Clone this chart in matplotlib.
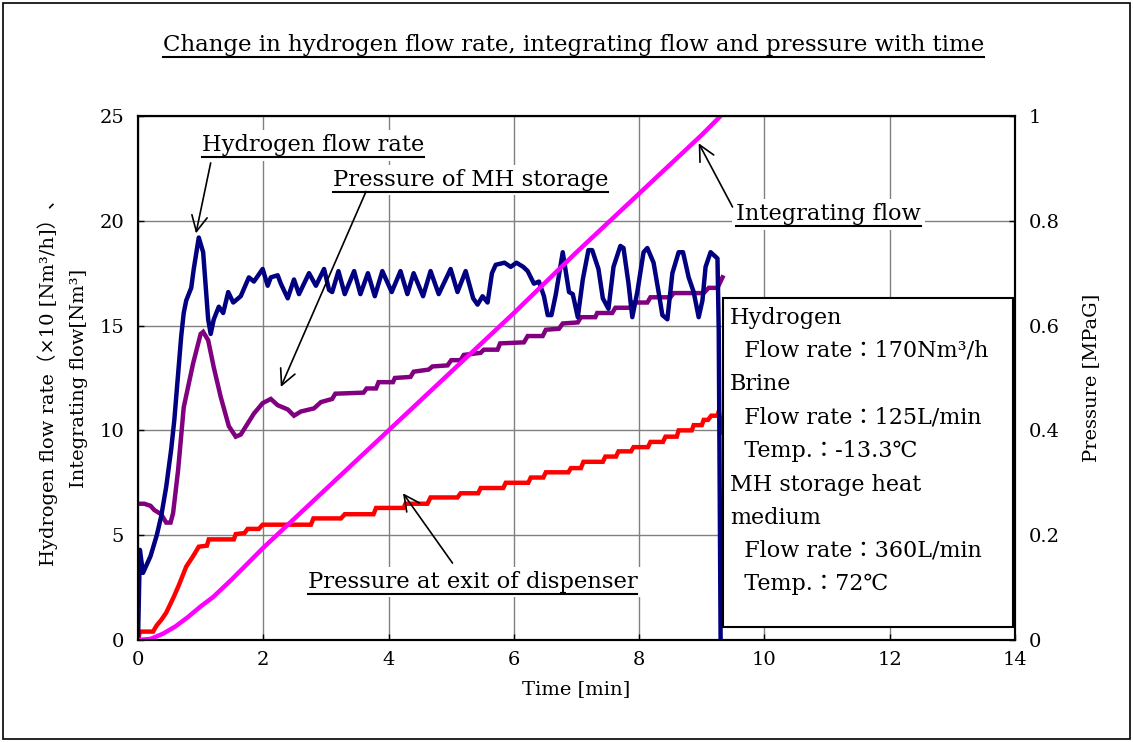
import matplotlib
matplotlib.use("Agg")
import matplotlib.pyplot as plt
from matplotlib.lines import Line2D
from matplotlib.patches import Rectangle

plt.rcParams["font.family"] = ["DejaVu Serif", "Noto Sans CJK JP"]

# hydrogen flow rate (x10 Nm3/h), left axis
h2_t = [0.0, 0.03, 0.08, 0.2, 0.3, 0.37, 0.45, 0.53, 0.58, 0.69, 0.73, 0.77, 0.85, 0.89,
        0.97, 1.04, 1.12, 1.16, 1.21, 1.29, 1.36, 1.44, 1.52, 1.64, 1.77, 1.85, 1.99,
        2.07, 2.12, 2.23, 2.28, 2.39, 2.49, 2.57, 2.73, 2.84, 2.97, 3.05, 3.1, 3.2, 3.3,
        3.45, 3.55, 3.67, 3.78, 3.9, 4.05, 4.19, 4.3, 4.4, 4.55, 4.67, 4.8, 4.99, 5.1,
        5.23, 5.35, 5.42, 5.5, 5.58, 5.65, 5.71, 5.85, 5.95, 6.04, 6.15, 6.22, 6.32,
        6.4, 6.48, 6.54, 6.6, 6.67, 6.78, 6.88, 6.94, 7.02, 7.1, 7.19, 7.25, 7.35, 7.42,
        7.51, 7.59, 7.7, 7.75, 7.83, 7.89, 7.97, 8.07, 8.13, 8.23, 8.31, 8.37, 8.45,
        8.53, 8.63, 8.7, 8.79, 8.87, 8.95, 9.01, 9.06, 9.14, 9.25, 9.27, 9.3]
h2_flow = [0.0, 4.3, 3.2, 4.0, 5.0, 5.9, 7.3, 9.1, 10.5, 14.5, 15.6, 16.2, 16.8, 17.7,
           19.2, 18.5, 15.3, 14.6, 15.3, 15.9, 15.6, 16.6, 16.1, 16.4, 17.3, 17.1, 17.7,
           16.9, 17.3, 17.4, 17.0, 16.3, 17.2, 16.5, 17.5, 16.9, 17.7, 16.7, 16.6, 17.6,
           16.5, 17.6, 16.5, 17.5, 16.4, 17.6, 16.6, 17.6, 16.5, 17.5, 16.4, 17.6, 16.5,
           17.7, 16.6, 17.6, 16.3, 16.0, 16.4, 16.1, 17.5, 17.9, 18.0, 17.8, 18.0, 17.8,
           17.6, 17.0, 17.1, 16.4, 15.5, 15.5, 16.5, 18.5, 16.6, 16.5, 15.4, 17.2, 18.6,
           18.6, 17.7, 16.3, 15.8, 17.8, 18.8, 18.7, 17.0, 15.4, 16.6, 18.5, 18.7, 18.0,
           16.6, 15.5, 15.3, 17.5, 18.5, 18.5, 17.3, 16.6, 15.4, 16.2, 17.8, 18.5, 18.2,
           14.8, 0.0]

# integrating flow (Nm3), left axis
int_t = [0.0, 0.2, 0.4, 0.6, 0.8, 1.0, 1.2, 1.5, 2.0, 3.0, 4.0, 5.0, 6.0, 7.0, 8.0, 9.0, 9.3]
int_flow = [0.0, 0.05, 0.3, 0.65, 1.1, 1.6, 2.05, 2.9, 4.4, 7.2, 10.0, 12.8, 15.6, 18.5,
            21.3, 24.1, 25.0]

# pressure of MH storage (MPaG), right axis
mh_t = [0.0, 0.1, 0.2, 0.26, 0.37, 0.45, 0.52, 0.56, 0.64, 0.73, 0.88, 1.0, 1.04, 1.12,
        1.21, 1.32, 1.45, 1.56, 1.64, 1.85, 1.99, 2.12, 2.23, 2.39, 2.49, 2.6, 2.81, 2.92,
        3.1, 3.15, 3.6, 3.65, 3.8, 3.84, 4.07, 4.1, 4.35, 4.4, 4.64, 4.7, 4.94, 5.0, 5.15,
        5.2, 5.47, 5.52, 5.74, 5.78, 6.16, 6.22, 6.46, 6.51, 6.72, 6.78, 7.02, 7.07, 7.3,
        7.33, 7.57, 7.62, 7.86, 7.89, 8.13, 8.18, 8.5, 8.55, 9.03, 9.11, 9.25, 9.33]
mh_p = [0.26, 0.26, 0.256, 0.248, 0.24, 0.224, 0.224, 0.242, 0.324, 0.444, 0.528, 0.584,
        0.588, 0.572, 0.52, 0.464, 0.408, 0.388, 0.392, 0.432, 0.452, 0.46, 0.448, 0.44,
        0.428, 0.436, 0.442, 0.454, 0.46, 0.47, 0.472, 0.48, 0.48, 0.492, 0.492, 0.5, 0.502,
        0.512, 0.516, 0.522, 0.524, 0.534, 0.534, 0.544, 0.548, 0.554, 0.554, 0.566, 0.568,
        0.58, 0.58, 0.592, 0.594, 0.604, 0.606, 0.616, 0.616, 0.624, 0.624, 0.634, 0.634,
        0.644, 0.644, 0.654, 0.654, 0.662, 0.662, 0.672, 0.672, 0.692]

# pressure at exit of dispenser (MPaG), right axis
ex_t = [0.0, 0.03, 0.24, 0.3, 0.37, 0.45, 0.57, 0.65, 0.77, 0.88, 0.97, 1.1, 1.13, 1.53,
        1.56, 1.7, 1.75, 1.93, 1.99, 2.76, 2.8, 3.24, 3.3, 3.76, 3.8, 4.24, 4.27, 4.62, 4.67,
        5.1, 5.15, 5.43, 5.47, 5.83, 5.87, 6.23, 6.27, 6.47, 6.51, 6.87, 6.91, 7.07, 7.11,
        7.42, 7.46, 7.63, 7.67, 7.87, 7.91, 8.14, 8.18, 8.38, 8.42, 8.6, 8.63, 8.84, 8.87,
        9.0, 9.03, 9.1, 9.15, 9.25, 9.27, 9.33]
ex_p = [0.0, 0.016, 0.016, 0.028, 0.038, 0.052, 0.082, 0.104, 0.14, 0.16, 0.178, 0.18,
        0.192, 0.192, 0.202, 0.204, 0.212, 0.212, 0.22, 0.22, 0.232, 0.232, 0.24, 0.24,
        0.252, 0.252, 0.26, 0.26, 0.272, 0.272, 0.28, 0.28, 0.29, 0.29, 0.3, 0.3, 0.31,
        0.31, 0.32, 0.32, 0.328, 0.328, 0.34, 0.34, 0.35, 0.35, 0.36, 0.36, 0.368, 0.368,
        0.378, 0.378, 0.388, 0.388, 0.4, 0.4, 0.41, 0.41, 0.42, 0.42, 0.428, 0.428, 0.436,
        0.396]

conditions = [
    "Hydrogen",
    "  Flow rate：170Nm³/h",
    "Brine",
    "  Flow rate：125L/min",
    "  Temp.：-13.3℃",
    "MH storage heat",
    "medium",
    "  Flow rate：360L/min",
    "  Temp.：72℃",
]

fig = plt.figure(figsize=(11.33, 7.42), dpi=100)
ax = fig.add_axes([0.1218, 0.1375, 0.7741, 0.7062])
ax2 = ax.twinx()
ax.set_zorder(ax2.get_zorder() + 1)
ax.patch.set_visible(False)

ax2.plot(mh_t, mh_p, color="#800080", lw=3.2, solid_joinstyle="miter")
ax2.plot(ex_t, ex_p, color="#ff0000", lw=3.2, solid_joinstyle="miter")
ax.plot(h2_t, h2_flow, color="#000080", lw=3.2)
ax.plot(int_t, int_flow, color="#ff00ff", lw=3.2)

ax.set_xlim(0, 14)
ax.set_ylim(0, 25)
ax2.set_ylim(0, 1)
ax.set_xticks(range(0, 15, 2))
ax.set_yticks(range(0, 26, 5))
ax2.set_yticks([0, 0.2, 0.4, 0.6, 0.8, 1.0])
ax2.set_yticklabels(["0", "0.2", "0.4", "0.6", "0.8", "1"])

# grid lives on the lower (twin) axes so it stays under every curve
ax2.xaxis.set_visible(True)
ax2.tick_params(axis="x", bottom=False, labelbottom=False, top=False, labeltop=False)
ax2.grid(True, color="#808080", lw=1)
ax2.set_axisbelow(True)

for a in (ax, ax2):
    a.tick_params(labelsize=14, direction="in", length=4, width=1)
    for s in a.spines.values():
        s.set_linewidth(1.5)
ax.tick_params(axis="x", pad=8)
ax.tick_params(axis="y", pad=10)
ax2.tick_params(axis="y", pad=10)

ax.set_xlabel("Time [min]", fontsize=14, labelpad=8)
ax.set_ylabel("Hydrogen flow rate（×10 [Nm³/h]）、\nIntegrating flow[Nm³]",
              fontsize=14, labelpad=8, linespacing=1.9)
ax2.set_ylabel("Pressure [MPaG]", fontsize=14, labelpad=16)

title = fig.text(0.506, 0.939, "Change in hydrogen flow rate, integrating flow and pressure with time",
                 ha="center", va="center", fontsize=16.5)

white = dict(facecolor="white", edgecolor="none", pad=3)
labels = [
    ax.text(2.79, 23.6, "Hydrogen flow rate", ha="center", va="center", fontsize=16.2, bbox=white),
    ax.text(5.31, 21.95, "Pressure of MH storage", ha="center", va="center", fontsize=16.4, bbox=white),
    ax.text(11.02, 20.3, "Integrating flow", ha="center", va="center", fontsize=16.2, bbox=white),
    ax.text(5.34, 2.77, "Pressure at exit of dispenser", ha="center", va="center", fontsize=16.4, bbox=white),
]
arrows = [((0.925, 19.4), (1.16, 22.76)),
          ((2.28, 12.07), (3.64, 21.4)),
          ((8.95, 23.7), (9.49, 20.66)),
          ((4.23, 7.0), (5.02, 3.67))]
for tip, start in arrows:
    ax.annotate("", xy=tip, xytext=start,
                arrowprops=dict(arrowstyle="->", color="black", lw=1.2,
                                shrinkA=0, shrinkB=0, mutation_scale=28))

ax.add_patch(Rectangle((0.667, 0.0248), 0.3307, 0.6279, transform=ax.transAxes,
                       facecolor="white", edgecolor="black", lw=1.5, zorder=5))
line_y = [0.6145, 0.5515, 0.4885, 0.4237, 0.3607, 0.2958, 0.2328, 0.1698, 0.1069]
for txt, yy in zip(conditions, line_y):
    ax.text(0.675, yy, txt, transform=ax.transAxes, ha="left", va="center",
            fontsize=16, zorder=6)

# underline the captions
fig.canvas.draw()
r = fig.canvas.get_renderer()
inv = fig.transFigure.inverted()
for t in labels + [title]:
    bb = t.get_window_extent(renderer=r)
    (x0, y0), (x1, _) = inv.transform([(bb.x0, bb.y0 - 1), (bb.x1, bb.y1)])
    fig.add_artist(Line2D([x0, x1], [y0, y0], color="black", lw=1.5, zorder=10))

fig.add_artist(Rectangle((0.003, 0.004), 0.994, 0.992, transform=fig.transFigure,
                         fill=False, edgecolor="black", lw=1.2))

fig.savefig("out.png", dpi=100)
